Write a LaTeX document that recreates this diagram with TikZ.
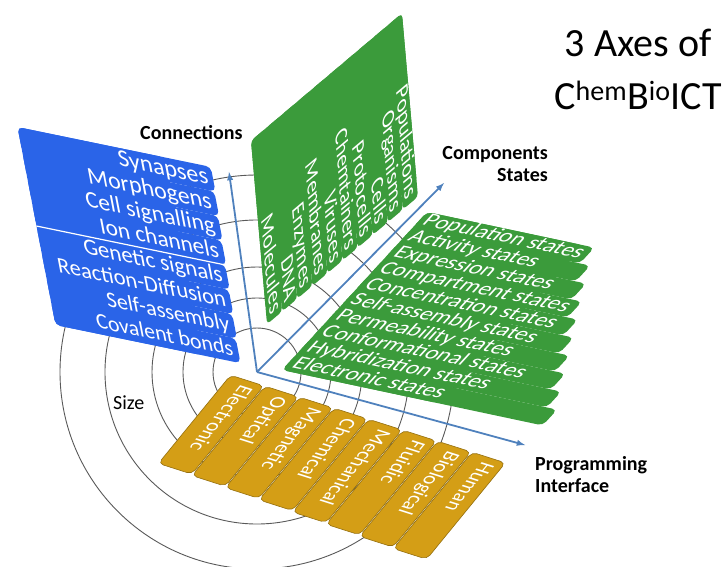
\documentclass[tikz,border=0pt]{standalone}
\usepackage{fontspec}
\setmainfont{Carlito}
\usepackage{xcolor}
\usepackage{tikz}
\definecolor{connblue}{RGB}{42,100,232}
\definecolor{compgreen}{RGB}{59,155,59}
\definecolor{proggold}{RGB}{212,158,22}
\definecolor{axisblue}{RGB}{79,129,189}
\tikzstyle{axisarrow} = [-latex, axisblue, line width=1.8pt]
\tikzstyle{ring} = [draw=black!65, line width=0.9pt]
\tikzstyle{lbl} = [inner sep=0pt, font=\bfseries\fontsize{20}{22}\selectfont]
\tikzstyle{paneltext} = [transform shape, inner sep=0pt, text=white]

\begin{document}
\begin{tikzpicture}[x=1pt, y=-1pt]
	\useasboundingbox (0,0) rectangle (723,567);
	\coordinate (O) at (257,372);

	% size rings round the origin, mostly hidden by the panels
	\foreach \r in {44,74,105,152,197}
		\draw[ring] (O) circle (\r pt);

	% connections panel, text grows a little towards the back rows
	\begin{scope}[cm={0.979,-0.202,-0.1885,0.982,(55.5pt,-325pt)}, x=1pt, y=1pt,
			every node/.style={paneltext}]
		\fill[connblue, rounded corners=5pt] (0,0) rectangle (150,201.6);
		\foreach \name [count=\i from 0] in {Covalent bonds,Self-assembly,Reaction-Diffusion,Genetic signals,Ion channels,Cell signalling,Morphogens,Synapses} {
			\pgfmathsetmacro\len{189+1.2*\i}
			\pgfmathsetmacro\fs{22.3+0.35*\i}
			\fill[connblue, rounded corners=5pt] (0,{25.2*\i}) rectangle (\len,{25.2*(\i+1)});
			\node[anchor=base east, font=\fontsize{\fs}{\fs}\selectfont] (conn\i) at (\len-5,{25.2*\i+6.2}) {\name};
		}
		\draw[white, line width=1.2pt] (0,100.8) -- (195,100.8);
	\end{scope}

	% components panel (upright)
	\begin{scope}[cm={0.0869,-0.996,0.764,0.645,(251pt,-140.75pt)}, x=1pt, y=1pt,
			every node/.style={paneltext, font=\fontsize{23}{24}\selectfont}]
		\fill[compgreen, rounded corners=5pt] (0,0) rectangle (170,197.6);
		\foreach \name [count=\i from 0] in {Molecules,DNA,Enzymes,Membranes,Viruses,Chemtainers,Protocells,Cells,Organisms,Populations} {
			\fill[compgreen, rounded corners=4pt] (0,{19.76*\i}) rectangle (184.2,{19.76*(\i+1)});
			\node[anchor=base east] (comp\i) at (179,{19.76*\i+4.3}) {\name};
		}
	\end{scope}

	% states panel (lying flat)
	\begin{scope}[cm={0.978,-0.208,0.6763,0.7369,(282pt,-370pt)}, x=1pt, y=1pt,
			every node/.style={paneltext, font=\fontsize{23}{24}\selectfont}]
		\fill[compgreen, rounded corners=5pt] (0,0) rectangle (160,214.4);
		\foreach \name [count=\i from 0] in {Electronic states,Hybridization states,Conformational states,Permeability states,Self-assembly states,Concentration states,Compartment states,Expression states,Activity states,Population states} {
			\pgfmathsetmacro\len{271.8-10.6*(\i+0.5)}
			\fill[compgreen, rounded corners=5pt] (0,{21.44*\i}) rectangle (\len,{21.44*(\i+1)});
			\node[anchor=base west] (state\i) at (5,{21.44*\i+5.3}) {\name};
		}
	\end{scope}

	% programming interface tabs
	\begin{scope}[cm={-0.633,-0.774,0.953,-0.304,(230pt,-375pt)}, x=1pt, y=1pt,
			every node/.style={paneltext, font=\fontsize{20.5}{22}\selectfont}]
		\foreach \name [count=\i from 0] in {Electronic,Optical,Magnetic,Chemical,Mechanical,Fluidic,Biological,Human} {
			\pgfmathsetmacro\len{114+1.5*\i}
			\draw[fill=proggold, draw=proggold!70!black, line width=0.6pt, rounded corners=5pt]
				(0,{36.2*\i+0.6}) rectangle (\len,{36.2*(\i+1)-0.6});
			\node[anchor=mid west] (prog\i) at (6,{36.2*(\i+0.5)}) {\name};
		}
	\end{scope}

	% the three axes
	\coordinate (conntip) at (229,172);
	\coordinate (comptip) at (444,183);
	\coordinate (progtip) at (525,445);
	\draw[axisarrow] (O) -- (conntip);
	\draw[axisarrow] (O) -- (comptip);
	\draw[axisarrow] (O) -- (progtip);

	% labels
	\node[lbl, anchor=base west] (connlabel) at (140,140) {Connections};
	\node[lbl, anchor=base east] (complabel) at (548,160) {Components};
	\node[lbl, anchor=base east] (statelabel) at (548,182) {States};
	\node[lbl, anchor=base west] (proglabel) at (535,470) {Programming};
	\node[lbl, anchor=base west] (iflabel) at (535,492) {Interface};
	\node[inner sep=0pt, anchor=base west, font=\fontsize{20}{22}\selectfont] (sizelabel) at (113,409) {Size};

	\node[inner sep=0pt, anchor=base, font=\fontsize{40}{44}\selectfont] (title) at (638,57) {3 Axes of};
	\node[inner sep=0pt, anchor=base, font=\fontsize{40}{44}\selectfont] (subtitle) at (638,110) {C\textsuperscript{hem}B\textsuperscript{io}ICT};
\end{tikzpicture}
\end{document}
